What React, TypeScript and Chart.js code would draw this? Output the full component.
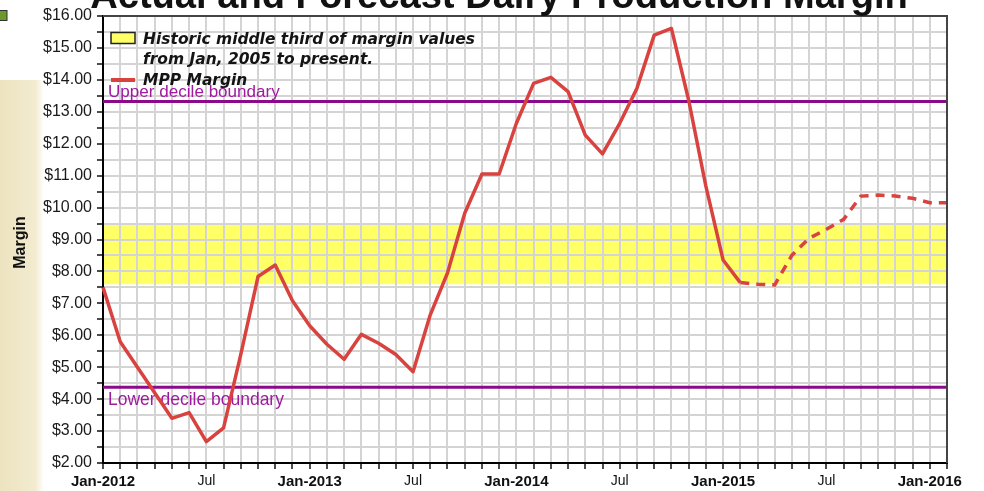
import React, { useEffect, useRef } from 'react';
import { Chart, registerables } from 'chart.js';

Chart.register(...registerables);

const monthLabels = [
  'Jan-2012', 'Feb-2012', 'Mar-2012', 'Apr-2012', 'May-2012', 'Jun-2012', 'Jul-2012', 'Aug-2012', 'Sep-2012', 'Oct-2012', 'Nov-2012', 'Dec-2012',
  'Jan-2013', 'Feb-2013', 'Mar-2013', 'Apr-2013', 'May-2013', 'Jun-2013', 'Jul-2013', 'Aug-2013', 'Sep-2013', 'Oct-2013', 'Nov-2013', 'Dec-2013',
  'Jan-2014', 'Feb-2014', 'Mar-2014', 'Apr-2014', 'May-2014', 'Jun-2014', 'Jul-2014', 'Aug-2014', 'Sep-2014', 'Oct-2014', 'Nov-2014', 'Dec-2014',
  'Jan-2015', 'Feb-2015', 'Mar-2015', 'Apr-2015', 'May-2015', 'Jun-2015', 'Jul-2015', 'Aug-2015', 'Sep-2015', 'Oct-2015', 'Nov-2015', 'Dec-2015',
  'Jan-2016', 'Feb-2016',
];

// Actual MPP margin, Jan-2012 .. Feb-2015
const actualMargin = [
  7.5, 5.8, 5.0, 4.2, 3.4, 3.58, 2.67, 3.1, 5.4, 7.84, 8.2, 7.08,
  6.3, 5.72, 5.25, 6.03, 5.75, 5.4, 4.86, 6.64, 7.95, 9.82, 11.05, 11.05,
  12.64, 13.89, 14.08, 13.63, 12.27, 11.68, 12.64, 13.74, 15.4, 15.61, 13.37, 10.67,
  8.36, 7.65,
];

// Forecast MPP margin, Feb-2015 .. Feb-2016
const forecastMargin = [7.65, 7.6, 7.58, 8.51, 9.04, 9.32, 9.63, 10.36, 10.39, 10.36, 10.29, 10.15, 10.15];
const forecastStartIndex = 37;

const upperDecile = 13.32;
const lowerDecile = 4.37;
const middleThirdLow = 7.6;
const middleThirdHigh = 9.5;

const yMin = 2;
const yMax = 16;
const yStep = 0.5;

const titleText = 'Actual and Forecast Dairy Production Margin';
const legendLine1 = 'Historic middle third of margin values';
const legendLine2 = 'from Jan, 2005 to present.';
const legendLine3 = 'MPP Margin';
const upperLabel = 'Upper decile boundary';
const lowerLabel = 'Lower decile boundary';
const yAxisTitle = 'Margin';

const RED = '#d8433f';
const PURPLE = '#8b0a8b';
const PURPLE_TEXT = '#a01aa0';
const YELLOW = '#ffff66';
const SANS = '"Liberation Sans", Arial, sans-serif';
const LEGEND_FAMILY = '"DejaVu Sans", Verdana, sans-serif';

function fitFont(ctx: CanvasRenderingContext2D, text: string, style: string, family: string, width: number) {
  ctx.font = `${style} 20px ${family}`;
  const w = ctx.measureText(text).width;
  const size = (20 * width) / w;
  return `${style} ${size.toFixed(2)}px ${family}`;
}

const decorPlugin = {
  id: 'decor',
  beforeDraw(chart: any) {
    const { ctx, chartArea, scales } = chart;
    const y = scales.y;
    ctx.save();
    ctx.fillStyle = '#ffffff';
    ctx.fillRect(0, 0, chart.width, chart.height);
    // parchment strip on the left
    const g = ctx.createLinearGradient(0, 0, 44, 0);
    g.addColorStop(0, '#ede3bf');
    g.addColorStop(0.8, '#f2ebd0');
    g.addColorStop(1, 'rgba(255,255,255,1)');
    ctx.fillStyle = g;
    ctx.fillRect(0, 80, 44, chart.height - 80);
    // green square
    ctx.fillStyle = '#6b9a2b';
    ctx.fillRect(0, 10, 7, 11);
    ctx.strokeStyle = '#333';
    ctx.lineWidth = 1;
    ctx.strokeRect(-1, 10.5, 8, 10);
    // yellow band
    const yTop = y.getPixelForValue(middleThirdHigh);
    const yBot = y.getPixelForValue(middleThirdLow);
    ctx.fillStyle = YELLOW;
    ctx.fillRect(chartArea.left, yTop, chartArea.right - chartArea.left, yBot - yTop);
    ctx.restore();
  },
  beforeDatasetsDraw(chart: any) {
    const { ctx, chartArea, scales } = chart;
    const y = scales.y;
    ctx.save();
    ctx.strokeStyle = PURPLE;
    ctx.lineWidth = 3;
    [upperDecile, lowerDecile].forEach((v) => {
      const py = y.getPixelForValue(v);
      ctx.beginPath();
      ctx.moveTo(chartArea.left, py);
      ctx.lineTo(chartArea.right, py);
      ctx.stroke();
    });
    ctx.fillStyle = PURPLE_TEXT;
    ctx.textBaseline = 'alphabetic';
    ctx.textAlign = 'left';
    ctx.font = fitFont(ctx, upperLabel, 'normal', SANS, 172);
    ctx.fillText(upperLabel, chartArea.left + 5, y.getPixelForValue(upperDecile) - 4.5);
    ctx.font = fitFont(ctx, lowerLabel, 'normal', SANS, 176);
    ctx.fillText(lowerLabel, chartArea.left + 5, y.getPixelForValue(lowerDecile) + 18);
    ctx.restore();
  },
  afterDraw(chart: any) {
    const { ctx, chartArea } = chart;
    ctx.save();
    // top & right frame
    ctx.strokeStyle = '#444';
    ctx.lineWidth = 2;
    ctx.beginPath();
    ctx.moveTo(chartArea.left, chartArea.top);
    ctx.lineTo(chartArea.right, chartArea.top);
    ctx.lineTo(chartArea.right, chartArea.bottom);
    ctx.stroke();

    // title (clipped at top)
    ctx.fillStyle = '#111';
    ctx.textAlign = 'center';
    ctx.textBaseline = 'alphabetic';
    ctx.font = fitFont(ctx, titleText, 'bold', SANS, 818);
    ctx.fillText(titleText, 499, 8);

    // legend
    const lx = chartArea.left + 8;
    ctx.fillStyle = YELLOW;
    ctx.fillRect(lx, 32.5, 24, 11);
    ctx.strokeStyle = '#222';
    ctx.lineWidth = 1.5;
    ctx.strokeRect(lx, 32.5, 24, 11);
    ctx.strokeStyle = RED;
    ctx.lineWidth = 4;
    ctx.beginPath();
    ctx.moveTo(lx, 80);
    ctx.lineTo(lx + 24, 80);
    ctx.stroke();
    ctx.textAlign = 'left';
    ctx.font = `italic bold 15px ${LEGEND_FAMILY}`;
    const natural = ctx.measureText(legendLine1).width;
    const sx = 332 / natural;
    ctx.fillStyle = '#141414';
    const drawLegendText = (t: string, x: number, yb: number) => {
      ctx.save();
      ctx.translate(x, yb);
      ctx.scale(sx, 1);
      ctx.fillText(t, 0, 0);
      ctx.restore();
    };
    drawLegendText(legendLine1, 143, 43.5);
    drawLegendText(legendLine2, 143, 64);
    drawLegendText(legendLine3, 143, 85);

    // y axis title
    ctx.translate(21, (chartArea.top + chartArea.bottom) / 2 + 3);
    ctx.rotate(-Math.PI / 2);
    ctx.textAlign = 'center';
    ctx.textBaseline = 'middle';
    ctx.font = `bold 16px ${SANS}`;
    ctx.fillStyle = '#111';
    ctx.fillText(yAxisTitle, 0, 0);
    ctx.restore();
  },
};

export default function App() {
  const canvasRef = useRef<HTMLCanvasElement | null>(null);

  useEffect(() => {
    const canvas = canvasRef.current;
    if (!canvas) return;
    const actualData = monthLabels.map((_, i) => (i < actualMargin.length ? actualMargin[i] : null));
    const forecastData = monthLabels.map((_, i) =>
      i >= forecastStartIndex && i - forecastStartIndex < forecastMargin.length ? forecastMargin[i - forecastStartIndex] : null
    );
    const chart = new Chart(canvas, {
      type: 'line',
      data: {
        labels: monthLabels,
        datasets: [
          {
            label: 'MPP Margin',
            data: actualData,
            borderColor: RED,
            borderWidth: 3.5,
            pointRadius: 0,
            tension: 0,
            spanGaps: false,
            fill: false,
            borderJoinStyle: 'round',
          },
          {
            label: 'MPP Margin forecast',
            data: forecastData,
            borderColor: RED,
            borderWidth: 3.5,
            borderDash: [9, 7],
            pointRadius: 0,
            tension: 0,
            spanGaps: false,
            fill: false,
          },
        ],
      },
      options: {
        animation: false,
        responsive: false,
        maintainAspectRatio: false,
        layout: { padding: { top: 16, right: 37, left: 0, bottom: 0 } },
        plugins: {
          legend: { display: false },
          tooltip: { enabled: false },
          title: { display: false },
        },
        scales: {
          x: {
            type: 'category',
            offset: false,
            grid: { color: '#d4d4d4', lineWidth: 2, tickColor: '#111', tickLength: 6, tickWidth: 1.5 },
            border: { color: '#000', width: 2 },
            ticks: {
              autoSkip: false,
              maxRotation: 0,
              minRotation: 0,
              padding: 4,
              color: '#111',
              font: (c: any) =>
                c.index % 12 === 0
                  ? { family: SANS, size: 15, weight: 'bold' }
                  : { family: SANS, size: 14, weight: 'normal' },
              callback: (_v: any, i: number) => {
                const lab = monthLabels[i];
                if (lab.startsWith('Jan')) return lab;
                if (lab.startsWith('Jul')) return 'Jul';
                return '';
              },
            },
            afterFit: (s: any) => {
              s.height = 28;
            },
          },
          y: {
            min: yMin,
            max: yMax,
            grid: { color: '#d4d4d4', lineWidth: 2, tickColor: '#111', tickLength: 6, tickWidth: 1.5 },
            border: { color: '#000', width: 2 },
            ticks: {
              stepSize: yStep,
              autoSkip: false,
              padding: 5,
              color: '#1a1a1a',
              font: { family: SANS, size: 16 },
              callback: (v: any) => (Number.isInteger(Number(v)) ? '$' + Number(v).toFixed(2) : ''),
            },
            afterFit: (s: any) => {
              s.width = 103;
            },
          },
        },
      },
      plugins: [decorPlugin],
    });
    return () => chart.destroy();
  }, []);

  return (
    <div style={{ position: 'fixed', left: 0, top: 0, width: 984, height: 491 }}>
      <canvas ref={canvasRef} width={984} height={491} style={{ width: 984, height: 491, display: 'block' }} />
    </div>
  );
}
